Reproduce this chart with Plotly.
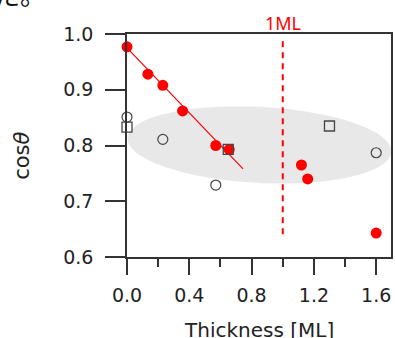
import numpy as np
import plotly.graph_objects as go

# ---- data ----
red_x = [0.0, 0.134, 0.23, 0.357, 0.57, 0.656, 1.12, 1.16, 1.60]
red_y = [0.977, 0.928, 0.908, 0.862, 0.800, 0.793, 0.765, 0.740, 0.643]
circle_x = [0.0, 0.23, 0.57, 1.60]
circle_y = [0.851, 0.811, 0.729, 0.787]
square_x = [0.0, 0.65, 1.30]
square_y = [0.833, 0.793, 0.835]
fit_x = [0.0, 0.745]
fit_y = [0.975, 0.758]
ml_x = [1.0, 1.0]
ml_y = [0.641, 0.994]
x_ticks = [0.0, 0.4, 0.8, 1.2, 1.6]
x_minor = [0.2, 0.6, 1.0, 1.4]
y_ticks = [0.6, 0.7, 0.8, 0.9, 1.0]
x_tick_labels = ["0.0", "0.4", "0.8", "1.2", "1.6"]
y_tick_labels = ["0.6", "0.7", "0.8", "0.9", "1.0"]

# ---- layout geometry ----
W, H = 395, 338
ML, MR, MT, MB = 127, 2, 34, 81
x_range = [0.0, 1.695]
y_range = [0.6, 1.0]
plot_w = W - ML - MR
plot_h = H - MT - MB
px_x = plot_w / (x_range[1] - x_range[0])
px_y = plot_h / (y_range[1] - y_range[0])

# grey ellipse (center in data units, semi-axes in pixels, tilt in degrees)
ell_cx, ell_cy = 0.85, 0.801
ell_a, ell_b, ell_ang = 133.0, 38.0, 3.0
t = np.linspace(0, 2 * np.pi, 120)
phi = np.deg2rad(ell_ang)
dx = ell_a * np.cos(t) * np.cos(phi) - ell_b * np.sin(t) * np.sin(phi)
dy = ell_a * np.cos(t) * np.sin(phi) + ell_b * np.sin(t) * np.cos(phi)
ex = ell_cx + dx / px_x
ey = ell_cy - dy / px_y
path = "M " + " L ".join(f"{a:.5f},{b:.5f}" for a, b in zip(ex, ey)) + " Z"

RED = "#ff0000"
DARK = "#333333"
FONT = "DejaVu Sans"

fig = go.Figure()
fig.add_trace(go.Scatter(x=ml_x, y=ml_y, mode="lines",
                         line=dict(color=RED, width=2, dash="6px,5px"),
                         hoverinfo="skip", showlegend=False))
fig.add_trace(go.Scatter(x=fit_x, y=fit_y, mode="lines",
                         line=dict(color=RED, width=1.2),
                         showlegend=False, cliponaxis=False))
fig.add_trace(go.Scatter(x=red_x, y=red_y, mode="markers",
                         marker=dict(color=RED, size=11, line=dict(width=0)),
                         showlegend=False, cliponaxis=False))
fig.add_trace(go.Scatter(x=circle_x, y=circle_y, mode="markers",
                         marker=dict(symbol="circle-open", color="#444444", size=10,
                                     line=dict(width=1.2, color="#444444")),
                         showlegend=False, cliponaxis=False))
fig.add_trace(go.Scatter(x=square_x, y=square_y, mode="markers",
                         marker=dict(symbol="square-open", color="#444444", size=10,
                                     line=dict(width=1.3, color="#444444")),
                         showlegend=False, cliponaxis=False))

fig.add_shape(type="path", path=path, xref="x", yref="y",
              fillcolor="#e8e8e8", line=dict(width=0), layer="below")

fig.update_layout(
    width=W, height=H, autosize=False,
    margin=dict(l=ML, r=MR, t=MT, b=MB, pad=0),
    plot_bgcolor="white", paper_bgcolor="white",
    font=dict(family=FONT, color="#222222"),
    xaxis=dict(range=x_range, showgrid=False, zeroline=False,
               showline=True, mirror=True, linecolor=DARK, linewidth=1.5,
               ticks="outside", ticklen=16, tickwidth=1.5, tickcolor=DARK,
               tickvals=x_ticks, ticktext=x_tick_labels,
               tickfont=dict(family=FONT, size=19, color="#222222"),
               ticklabelstandoff=4,
               minor=dict(tickvals=x_minor, ticks="outside", ticklen=8,
                          tickwidth=1.5, tickcolor=DARK)),
    yaxis=dict(range=y_range, showgrid=False, zeroline=False,
               showline=True, mirror=True, linecolor=DARK, linewidth=1.5,
               ticks="outside", ticklen=20, tickwidth=1.5, tickcolor=DARK,
               tickvals=y_ticks, ticktext=y_tick_labels,
               tickfont=dict(family=FONT, size=19, color="#222222"),
               ticklabelstandoff=8),
)

def py(pix):
    return (H - MB - pix) / plot_h

def pxp(pix):
    return (pix - ML) / plot_w

fig.add_annotation(text="Thickness [ML]", xref="paper", yref="paper",
                   x=0.5, y=py(330), xanchor="center", yanchor="middle",
                   showarrow=False, font=dict(family=FONT, size=20, color="#222222"))
fig.add_annotation(text="cos<i>θ</i>", xref="paper", yref="paper",
                   x=pxp(21), y=py(156), xanchor="center", yanchor="middle",
                   textangle=-90, showarrow=False,
                   font=dict(family=FONT, size=21, color="#222222"))
fig.add_annotation(text="1ML", xref="x", yref="paper",
                   x=1.0, y=py(23), xanchor="center", yanchor="middle",
                   showarrow=False, font=dict(family="Noto Sans", size=18, color=RED))
fig.add_annotation(text="た。", xref="paper", yref="paper",
                   x=pxp(-9), y=py(-6), xanchor="left", yanchor="middle",
                   showarrow=False,
                   font=dict(family="Noto Sans CJK JP", size=26, color="#111111"))

fig.write_html("out.html", config={"displayModeBar": False},
               post_script="document.body.style.margin='0px';document.body.style.overflow='hidden';")
